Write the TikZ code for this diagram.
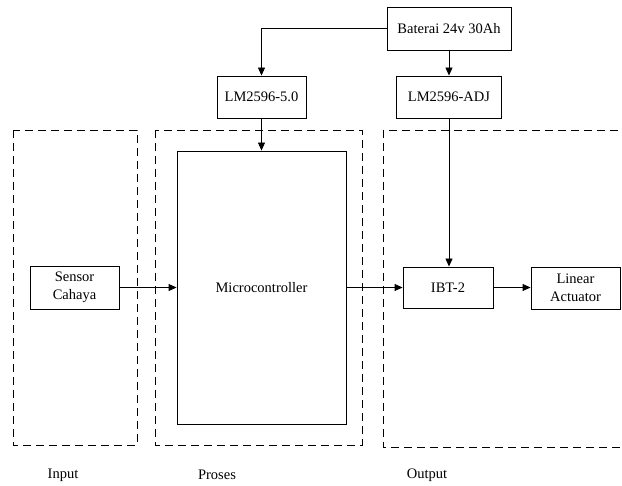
\documentclass[tikz,border=0pt]{standalone}
\usepackage{fontspec}
\setmainfont{Liberation Serif}
\usetikzlibrary{arrows.meta}

\tikzset{
  blk/.style={draw, line width=0.9pt, inner sep=0pt, align=center,
    font=\fontsize{14.5}{18.5}\selectfont},
  group/.style={draw, line width=0.9pt, dash pattern=on 8pt off 5pt},
  conn/.style={line width=0.9pt, -{Triangle[length=8pt,width=7pt]}},
  plain/.style={line width=0.9pt},
  caption/.style={font=\fontsize{14.5}{17}\selectfont}
}

\begin{document}
\begin{tikzpicture}[x=1pt,y=-1pt]
\useasboundingbox (0,0) rectangle (622,486);

% dashed groups
\draw[group] (13,130) rectangle (137,445);
\draw[group] (155,130) rectangle (362,445);
\draw[group] (383,130) rectangle (632,447);

% blocks
\node[blk, minimum width=124pt, minimum height=43pt] (bat) at (449,28.5) {Baterai 24v 30Ah};
\node[blk, minimum width=89pt, minimum height=42pt] (lmfive) at (261.5,97) {LM2596-5.0};
\node[blk, minimum width=105pt, minimum height=42pt] (lmadj) at (449,97) {LM2596-ADJ};
\node[blk, minimum width=169pt, minimum height=273pt] (mcu) at (261.5,287.5) {Microcontroller};
\node[blk, minimum width=89pt, minimum height=43pt] (sensor) at (74.5,287.5) {Sensor\\Cahaya};
\node[blk, minimum width=90pt, minimum height=41pt] (ibt) at (448,287.5) {IBT-2};
\node[blk, minimum width=89pt, minimum height=42pt] (act) at (575.5,288) {Linear\\Actuator};

% group captions
\node[caption] (lin) at (63,475) {Input};
\node[caption] (lpr) at (217,475) {Proses};
\node[caption] (lout) at (427,475) {Output};

% connectors
\draw[conn] (bat.west) -| (lmfive.north);
\draw[conn] (bat.south) -- (lmadj.north);
\draw[conn] (lmfive.south) -- (mcu.north);
\draw[conn] (lmadj.south) -- (lmadj.south |- ibt.north);
\draw[conn] (sensor.east) -- (mcu.west |- sensor.east);
\draw[conn] (mcu.east |- ibt.west) -- (ibt.west);
\draw[conn] (ibt.east) -- (act.west |- ibt.east);
\end{tikzpicture}
\end{document}
